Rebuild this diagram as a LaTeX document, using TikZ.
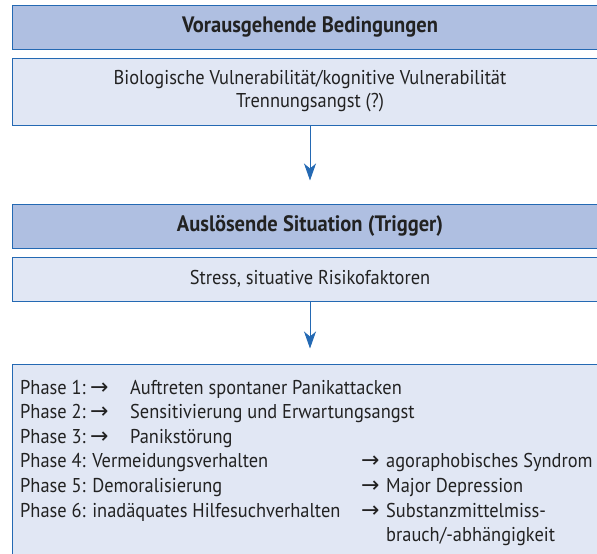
\documentclass[tikz,border=0pt]{standalone}
\usepackage{fontspec}
\setmainfont{PT Sans}[FakeStretch=0.92]
\newfontfamily\arrowfont{DejaVu Sans}
\usepackage{xcolor}
\usetikzlibrary{arrows.meta,positioning}
\definecolor{headblue}{HTML}{AFBFE1}
\definecolor{lightblue}{HTML}{E1E7F4}
\definecolor{frameblue}{HTML}{2469B3}
\definecolor{darktext}{HTML}{222222}
\newcommand{\rarr}{{\arrowfont\fontsize{22}{23}\selectfont →}}

\begin{document}
\begin{tikzpicture}[x=1pt, y=-1pt, text=darktext, font=\fontsize{20}{23}\selectfont,
  box/.style={draw=frameblue, line width=1pt, minimum width=596pt, inner sep=0pt},
  headbox/.style={box, fill=headblue, font=\fontsize{22.3}{23}\selectfont\bfseries},
  infobox/.style={box, fill=lightblue, align=center},
  flow/.style={draw=frameblue, line width=1pt, -{Stealth[length=17pt,width=12pt,inset=5pt]}},
  line/.style={anchor=base west, inner sep=0pt}]
\clip (0,0) rectangle (597,554);
% boxes
\node[headbox, minimum height=44pt] (vor) at (310,27) {Vorausgehende Bedingungen};
\node[infobox, minimum height=67pt] (bio) at (310,91.5) {Biologische Vulnerabilität/kognitive Vulnerabilität\\Trennungsangst (?)};
\node[headbox, minimum height=44pt] (aus) at (310,226) {Auslösende Situation (Trigger)};
\node[infobox, minimum height=44pt] (stress) at (310,279) {Stress, situative Risikofaktoren};
\node[infobox, minimum height=211pt] (phasen) at (310,469.5) {};
% arrows
\draw[flow, shorten >=23pt] (bio.south) -- (aus.north);
\draw[flow, shorten >=15pt] (stress.south) -- (phasen.north);
% phases
\foreach \n/\txt [count=\i from 0] in {1/Auftreten spontaner Panikattacken, 2/Sensitivierung und Erwartungsangst, 3/Panikstörung} {
  \node[line] (ph\n) at (20,{394+24.6*\i}) {Phase \n:};
  \node[line] (pa\n) at (90,{394+24.6*\i}) {\rarr};
  \node[line] (pt\n) at (130,{394+24.6*\i}) {\txt};
}
\foreach \n/\lft/\rgt [count=\i from 3] in {4/Vermeidungsverhalten/agoraphobisches Syndrom, 5/Demoralisierung/Major Depression} {
  \node[line] (ph\n) at (20,{394+24.6*\i}) {Phase \n: \lft};
  \node[line] (pa\n) at (361,{394+24.6*\i}) {\rarr};
  \node[line] (pt\n) at (386,{394+24.6*\i}) {\rgt};
}
\node[line] (ph6) at (20,517) {Phase 6: inadäquates Hilfesuchverhalten};
\node[line] (pa6) at (361,517) {\rarr};
\node[line] (pt6) at (386,517) {Substanzmittelmiss-};
\node[line] (pt6b) at (386,541.6) {brauch/-abhängigkeit};
\end{tikzpicture}
\end{document}
